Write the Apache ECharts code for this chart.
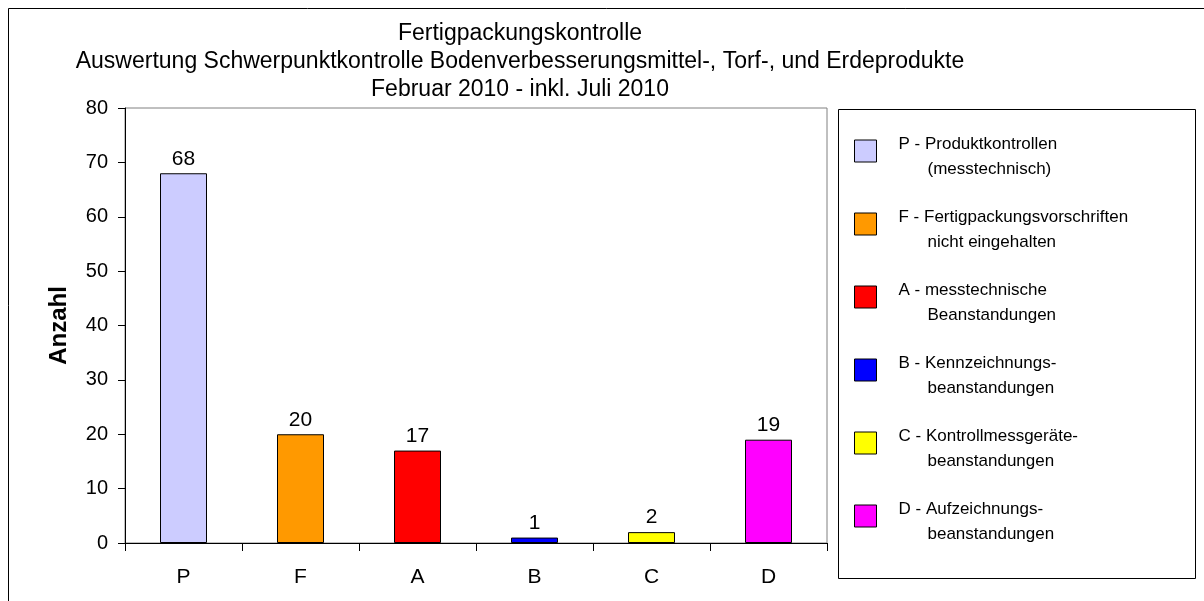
<!DOCTYPE html>
<html>
<head>
<meta charset="utf-8">
<script src="https://cdn.jsdelivr.net/npm/echarts@6/dist/echarts.min.js"></script>
<style>
  html, body { margin: 0; padding: 0; background: #fff; }
  #chart { width: 1204px; height: 601px; }
</style>
</head>
<body>
<div id="chart"></div>
<script>
const categories = ['P', 'F', 'A', 'B', 'C', 'D'];
const values = [68, 20, 17, 1, 2, 19];
const colors = ['#CCCCFF', '#FF9900', '#FF0000', '#0000FF', '#FFFF00', '#FF00FF'];
const legendFirst = [
  'P - Produktkontrollen',
  'F - Fertigpackungsvorschriften',
  'A - messtechnische',
  'B - Kennzeichnungs-',
  'C - Kontrollmessgeräte-',
  'D - Aufzeichnungs-'
];
const legendSecond = [
  '(messtechnisch)',
  'nicht eingehalten',
  'Beanstandungen',
  'beanstandungen',
  'beanstandungen',
  'beanstandungen'
];
const yTicks = { min: 0, max: 80, interval: 10 };

const font = '"Liberation Sans", Arial, sans-serif';
const chart = echarts.init(document.getElementById('chart'), null, { renderer: 'canvas' });

// one series per category so the legend gets one entry each
const series = categories.map((c, i) => ({
  name: legendFirst[i],
  type: 'bar',
  stack: 'all',
  barWidth: 47,
  data: categories.map((_, j) => (j === i ? values[i] : '-')),
  itemStyle: { color: colors[i], borderColor: '#000', borderWidth: 1 },
  label: {
    show: true,
    position: 'top',
    distance: 4,
    fontFamily: font,
    fontSize: 21,
    color: '#000'
  }
}));

chart.setOption({
  animation: false,
  backgroundColor: '#fff',
  title: {
    text: 'Fertigpackungskontrolle\nAuswertung Schwerpunktkontrolle Bodenverbesserungsmittel-, Torf-, und Erdeprodukte\nFebruar 2010 - inkl. Juli 2010',
    left: 515,
    top: 15,
    textAlign: 'center',
    textStyle: { fontFamily: font, fontSize: 23, fontWeight: 'normal', color: '#000', lineHeight: 28 }
  },
  grid: {
    left: 125, right: 377, top: 108, bottom: 58,
    show: true, borderColor: '#808080', borderWidth: 1
  },
  legend: {
    orient: 'vertical',
    left: 854,
    top: 136,
    padding: 0,
    itemWidth: 22,
    itemHeight: 22,
    itemGap: 31,
    icon: 'rect',
    selectedMode: false,
    itemStyle: { borderColor: '#000', borderWidth: 1 },
    formatter: (name) => {
      const i = legendFirst.indexOf(name);
      return '{a|' + legendFirst[i] + '}\n{b|' + legendSecond[i] + '}';
    },
    textStyle: {
      padding: [12, 0, 0, 0],
      rich: {
        a: { fontFamily: font, fontSize: 17, color: '#000', lineHeight: 25, padding: [0, 0, 0, 17] },
        b: { fontFamily: font, fontSize: 17, color: '#000', lineHeight: 25, padding: [0, 0, 0, 46] }
      }
    }
  },
  xAxis: {
    type: 'category',
    data: categories,
    axisLine: { lineStyle: { color: '#000', width: 1 } },
    axisTick: { show: true, length: 8, lineStyle: { color: '#000' } },
    axisLabel: { margin: 24, fontFamily: font, fontSize: 21, color: '#000' },
    splitLine: { show: false }
  },
  yAxis: {
    type: 'value',
    min: yTicks.min,
    max: yTicks.max,
    interval: yTicks.interval,
    name: 'Anzahl',
    nameLocation: 'middle',
    nameGap: 54,
    nameRotate: 90,
    nameTextStyle: { fontFamily: font, fontSize: 24, fontWeight: 'bold', color: '#000' },
    axisLine: { show: true, lineStyle: { color: '#000', width: 1 } },
    axisTick: { show: true, length: 7, lineStyle: { color: '#000' } },
    axisLabel: { margin: 17, fontFamily: font, fontSize: 20, color: '#000' },
    splitLine: { show: false }
  },
  graphic: [
    {
      type: 'rect',
      shape: { x: 8.5, y: 8.5, width: 1300, height: 700 },
      style: { fill: null, stroke: '#000', lineWidth: 1 },
      silent: true
    },
    {
      type: 'rect',
      shape: { x: 838.5, y: 109.5, width: 357, height: 469 },
      style: { fill: null, stroke: '#000', lineWidth: 1 },
      silent: true
    }
  ],
  series: series
});
</script>
</body>
</html>
